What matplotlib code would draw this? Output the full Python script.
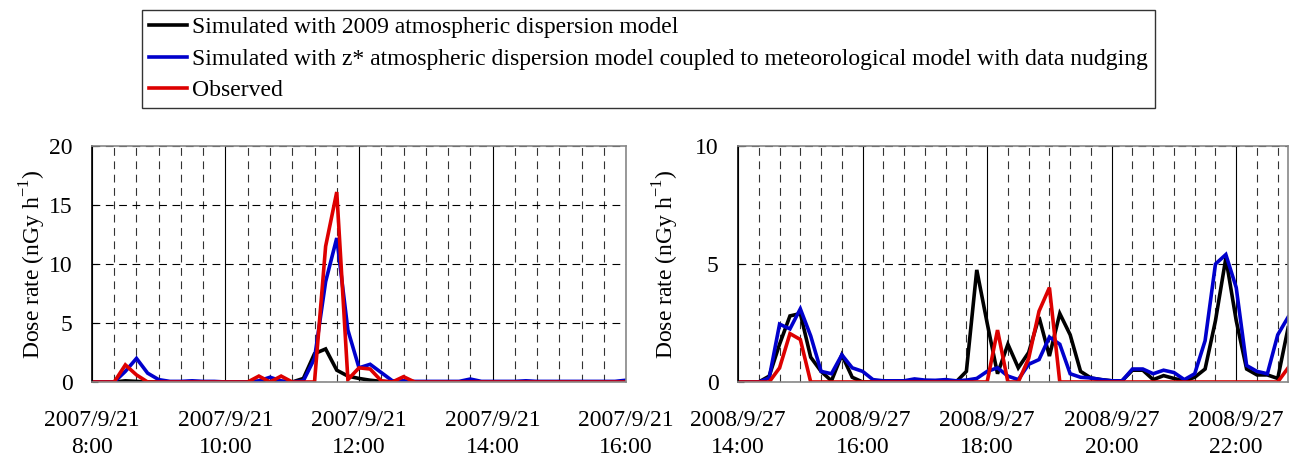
import numpy as np
import matplotlib.pyplot as plt
from matplotlib.ticker import MultipleLocator, FixedLocator

plt.rcParams.update({
    "font.family": "serif",
    "font.serif": ["Liberation Serif", "DejaVu Serif"],
    "font.size": 17,
    "mathtext.fontset": "custom",
    "mathtext.rm": "Liberation Serif",
})

# legend text
names = ["Simulated with 2009 atmospheric dispersion model",
         "Simulated with z* atmospheric dispersion model coupled to meteorological model with data nudging",
         "Observed"]
colors = ["black", "#0000cc", "#dd0000"]

# case 1: 2007/9/21 8:00-16:00, 10 min step
sim09_a = [0, 0, 0, 0.1, 0.05, 0, 0, 0, 0, 0, 0, 0, 0, 0, 0, 0, 0, 0, 0, 0.3,
           2.4, 2.8, 1.0, 0.5, 0.3, 0.15, 0.05, 0, 0, 0, 0, 0, 0, 0, 0, 0, 0, 0, 0, 0,
           0, 0, 0, 0, 0, 0, 0, 0, 0]
simz_a = [0, 0, 0, 0.9, 2.0, 0.75, 0.2, 0.05, 0.05, 0.1, 0.05, 0.05, 0, 0, 0, 0.1, 0.4, 0.1, 0, 0.1,
          2.0, 8.5, 12.2, 4.4, 1.2, 1.5, 0.8, 0.1, 0.1, 0.05, 0.05, 0.05, 0.05, 0.05, 0.25, 0.05, 0.05, 0.05, 0.05, 0.1,
          0.05, 0.05, 0.05, 0.05, 0.05, 0.05, 0.05, 0.05, 0.15]
obs_a = [0, 0, 0, 1.45, 0.6, 0, 0, 0, 0, 0, 0, 0, 0, 0, 0, 0.5, 0, 0.5, 0, 0,
         0, 11.5, 16.1, 0.2, 1.2, 1.1, 0.1, 0, 0.45, 0, 0, 0, 0, 0, 0, 0, 0, 0, 0, 0,
         0, 0, 0, 0, 0, 0, 0, 0, 0]
ticks_a = ["2007/9/21\n8:00", "2007/9/21\n10:00", "2007/9/21\n12:00", "2007/9/21\n14:00", "2007/9/21\n16:00"]

# case 2: 2008/9/27 14:00-22:50, 10 min step
sim09_b = [0, 0, 0, 0.25, 1.6, 2.8, 2.9, 1.05, 0.45, 0.05, 1.15, 0.2, 0, 0, 0, 0, 0, 0, 0, 0,
           0, 0, 0.45, 4.75, 2.5, 0.35, 1.6, 0.6, 1.25, 2.75, 1.1, 2.9, 2.0, 0.45, 0.17, 0.1, 0.05, 0.05, 0.5, 0.5,
           0.1, 0.27, 0.15, 0.05, 0.2, 0.55, 2.6, 5.25, 2.6, 0.55, 0.3, 0.3, 0.15, 2.3]
simz_b = [0, 0, 0, 0.17, 2.45, 2.25, 3.1, 1.95, 0.45, 0.35, 1.15, 0.6, 0.45, 0.1, 0.05, 0.05, 0.05, 0.13, 0.08, 0.07,
          0.1, 0.05, 0.08, 0.15, 0.45, 0.6, 0.25, 0.1, 0.75, 0.95, 1.9, 1.6, 0.35, 0.2, 0.17, 0.1, 0.05, 0.05, 0.55, 0.55,
          0.35, 0.5, 0.4, 0.1, 0.35, 1.75, 5.0, 5.4, 4.0, 0.7, 0.45, 0.35, 2.0, 2.75]
obs_b = [0, 0, 0, 0, 0.6, 2.05, 1.8, 0, 0, 0, 0, 0, 0, 0, 0, 0, 0, 0, 0, 0,
         0, 0, 0, 0, 0, 2.2, 0, 0, 1.0, 3.0, 4.0, 0, 0, 0, 0, 0, 0, 0, 0, 0,
         0, 0, 0, 0, 0, 0, 0, 0, 0, 0, 0, 0, 0, 0.6]
ticks_b = ["2008/9/27\n14:00", "2008/9/27\n16:00", "2008/9/27\n18:00", "2008/9/27\n20:00", "2008/9/27\n22:00"]

fig = plt.figure(figsize=(13.01, 4.65), dpi=100)
ax1 = fig.add_axes([0.0707, 0.1785, 0.4105, 0.5075])
ax2 = fig.add_axes([0.5673, 0.1785, 0.4228, 0.5075])


def draw(ax, t0, series, ymax, ystep, labels, lpad):
    n = len(series[0])
    t = t0 + np.arange(n) / 6.0
    lines = []
    for s, c in zip(series, colors):
        ln, = ax.plot(t, s, color=c, lw=2.6, solid_joinstyle="miter")
        lines.append(ln)
    ax.set_xlim(t0, t[-1])
    ax.set_ylim(0, ymax)
    ax.xaxis.set_major_locator(FixedLocator(t0 + 2 * np.arange(len(labels))))
    ax.set_xticklabels(labels, linespacing=1.4)
    ax.xaxis.set_minor_locator(MultipleLocator(1 / 3))
    ax.yaxis.set_major_locator(MultipleLocator(ystep))
    ax.grid(axis="x", which="major", color="black", lw=0.8, ls="-")
    ax.grid(axis="x", which="minor", color="#333333", lw=0.8, ls=(0, (7, 5)))
    ax.grid(axis="y", which="major", color="black", lw=0.8, ls=(0, (7, 5)))
    ax.set_axisbelow(True)
    ax.tick_params(axis="x", which="both", length=0, pad=20)
    ax.tick_params(axis="y", which="both", direction="in", length=4, pad=14)
    for sp in ax.spines.values():
        sp.set_color("#888888")
        sp.set_linewidth(1.2)
    ax.spines["left"].set_color("black")
    ax.set_ylabel("Dose rate (nGy h$^{\\mathregular{-1}}$)", labelpad=lpad)
    return lines


lines = draw(ax1, 8.0, [sim09_a, simz_a, obs_a], 20, 5, ticks_a, 1)
draw(ax2, 14.0, [sim09_b, simz_b, obs_b], 10, 5, ticks_b, 10)

leg = fig.legend(lines, names, loc="upper center", bbox_to_anchor=(0.4985, 0.979),
                 ncol=1, frameon=True, fancybox=False, edgecolor="black",
                 handlelength=1.6, handletextpad=0.25, borderpad=0.3,
                 borderaxespad=0, labelspacing=0.42, fontsize=17)
leg.get_frame().set_linewidth(1.0)

fig.savefig("out.png", dpi=100)
